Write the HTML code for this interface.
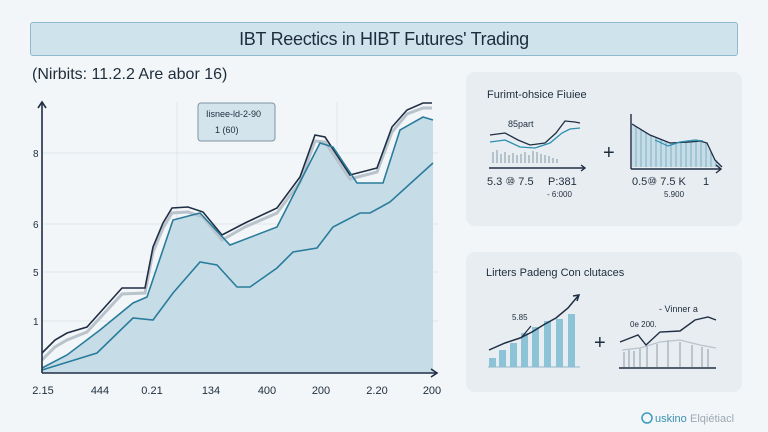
<!DOCTYPE html>
<html><head><meta charset="utf-8"><style>
body{margin:0;width:768px;height:432px;background:#f3f6f8;font-family:"Liberation Sans",sans-serif;overflow:hidden;position:relative}
.title{position:absolute;left:30px;top:22px;width:706px;height:32px;background:#cfe3ed;border:1.5px solid #8fb9cd;border-radius:3px;text-align:center;line-height:32px;font-size:18px;color:#1e2d3d;letter-spacing:-0.3px}
.sub{position:absolute;left:32px;top:66px;font-size:16px;color:#1e2d3d}
.panel{position:absolute;left:466px;width:276px;background:#e8edf1;border-radius:9px}
svg{position:absolute;left:0;top:0}
</style></head><body>
<div class="title">IBT Reectics in HIBT Futures' Trading</div>
<div class="sub">(Nirbits: 11.2.2 Are abor 16)</div>
<div class="panel" style="top:72px;height:154px"></div>
<div class="panel" style="top:252px;height:140px"></div>
<svg width="768" height="432" font-family="Liberation Sans, sans-serif">
<g stroke="#dde5ea" stroke-width="1">
<line x1="42" y1="153" x2="438" y2="153"/><line x1="42" y1="224" x2="438" y2="224"/>
<line x1="42" y1="272" x2="438" y2="272"/><line x1="42" y1="321" x2="438" y2="321"/>
<line x1="177" y1="102" x2="177" y2="373"/><line x1="337" y1="102" x2="337" y2="373"/>
</g>
<polygon fill="#c6dde7" points="42,368 67,355 100,330 133,303 147,297 173,220 200,213 230,245 277,227 320,143 333,147 357,183 383,183 400,130 423,117 433,120 433,373 42,373"/>
<polyline fill="none" stroke="#b8c3cc" stroke-width="3" points="42,360 55,347 67,340 87,332 122,294 145,293 153,252 163,228 172,213 188,212 203,217 222,240 245,227 277,213 300,182 315,141 325,142 350,179 377,172 392,132 407,114 423,108 432,108"/>
<polyline fill="none" stroke="#1f2e44" stroke-width="1.6" points="42,353 55,340 67,333 87,327 122,288 145,288 153,247 163,223 172,208 188,207 203,212 222,235 245,223 277,208 300,177 315,135 325,137 350,175 377,168 392,127 407,110 423,103 432,103"/>
<polyline fill="none" stroke="#2a7c9c" stroke-width="1.6" points="42,368 67,355 100,330 133,303 147,297 173,220 200,213 230,245 277,227 320,143 333,147 357,183 383,183 400,130 423,117 433,120"/>
<polyline fill="none" stroke="#2a7c9c" stroke-width="1.6" points="42,370 97,353 133,318 153,320 173,293 200,262 217,265 237,287 250,287 277,268 293,252 317,248 333,227 360,213 370,213 390,202 433,163"/>
<g stroke="#1f2e44" stroke-width="1.6" fill="none">
<line x1="42" y1="373" x2="42" y2="103"/><line x1="42" y1="373" x2="437" y2="373"/>
<polyline points="38,108 42,102 46,108"/><polyline points="431,369 437,373 431,377"/>
</g>
<g font-size="10" fill="#1e2d3d">
<text x="33" y="157">8</text><text x="33" y="228">6</text><text x="33" y="276">5</text><text x="33" y="325">1</text>
</g>
<g font-size="11" fill="#1e2d3d" text-anchor="middle">
<text x="43" y="394">2.15</text><text x="100" y="394">444</text><text x="152" y="394">0.21</text><text x="211" y="394">134</text><text x="267" y="394">400</text><text x="321" y="394">200</text><text x="377" y="394">2.20</text><text x="432" y="394">200</text>
</g>
<rect x="198" y="103" width="77" height="38" rx="3" fill="#d3e4ec" stroke="#7d93a5"/>
<text x="206" y="117" font-size="9" fill="#1e2d3d">Iisnee-ld-2-90</text>
<text x="215" y="133" font-size="9" fill="#1e2d3d">1 (60)</text>
<!-- panel1 -->
<text x="487" y="98" font-size="11" fill="#1e2d3d">Furimt-ohsice Fiuiee</text>
<text x="508" y="127" font-size="9" fill="#1e2d3d">85part</text>
<g stroke="#7f98a8" stroke-width="1">
<line x1="493" y1="152" x2="493" y2="163"/><line x1="497" y1="150" x2="497" y2="163"/><line x1="501" y1="154" x2="501" y2="163"/><line x1="505" y1="152" x2="505" y2="163"/><line x1="509" y1="155" x2="509" y2="163"/><line x1="513" y1="153" x2="513" y2="163"/><line x1="517" y1="155" x2="517" y2="163"/><line x1="521" y1="154" x2="521" y2="163"/><line x1="525" y1="152" x2="525" y2="163"/><line x1="529" y1="155" x2="529" y2="163"/><line x1="533" y1="151" x2="533" y2="163"/><line x1="537" y1="152" x2="537" y2="163"/><line x1="541" y1="154" x2="541" y2="163"/><line x1="545" y1="155" x2="545" y2="163"/><line x1="549" y1="156" x2="549" y2="163"/><line x1="553" y1="158" x2="553" y2="163"/><line x1="557" y1="159" x2="557" y2="163"/>
</g>
<polyline fill="none" stroke="#1f2e44" stroke-width="1.3" points="490,135 505,133 518,140 530,145 545,143 556,133 565,121 575,122 580,123"/>
<polyline fill="none" stroke="#2a8fb0" stroke-width="1.3" points="490,142 505,140 520,147 535,148 550,143 562,133 570,129 580,128"/>
<line x1="489" y1="168" x2="585" y2="168" stroke="#1f2e44" stroke-width="1.4"/><polyline points="581,165 585,168 581,171" fill="none" stroke="#1f2e44" stroke-width="1.4"/>
<text x="487" y="185" font-size="11" fill="#1e2d3d">5.3 ⑩ 7.5</text><text x="548" y="185" font-size="11" fill="#1e2d3d">P:381</text>
<text x="547" y="197" font-size="8" fill="#1e2d3d">- 6:000</text>
<text x="603" y="159" font-size="20" fill="#1e2d3d">+</text>
<polygon fill="#c6dde7" points="632,124 650,135 670,143 690,142 700,141 707,143 715,160 722,167 722,167 632,167"/>
<g stroke="#7fb0c5" stroke-width="1">
<line x1="636" y1="127" x2="636" y2="167"/><line x1="641" y1="130" x2="641" y2="167"/><line x1="646" y1="133" x2="646" y2="167"/><line x1="651" y1="136" x2="651" y2="167"/><line x1="656" y1="138" x2="656" y2="167"/><line x1="661" y1="140" x2="661" y2="167"/><line x1="666" y1="142" x2="666" y2="167"/><line x1="671" y1="143" x2="671" y2="167"/><line x1="676" y1="143" x2="676" y2="167"/><line x1="681" y1="142" x2="681" y2="167"/><line x1="686" y1="142" x2="686" y2="167"/><line x1="691" y1="142" x2="691" y2="167"/><line x1="696" y1="141" x2="696" y2="167"/><line x1="701" y1="141" x2="701" y2="167"/><line x1="706" y1="143" x2="706" y2="167"/><line x1="711" y1="152" x2="711" y2="167"/><line x1="716" y1="160" x2="716" y2="167"/>
</g>
<polyline fill="none" stroke="#1f2e44" stroke-width="1.3" points="632,124 650,135 670,143 690,142 700,141 707,143 715,160 722,167"/>
<polyline fill="none" stroke="#2a8fb0" stroke-width="1.2" points="655,140 668,146 680,142 695,140 703,141"/>
<line x1="631" y1="114" x2="631" y2="169" stroke="#1f2e44" stroke-width="1.4"/><line x1="631" y1="169" x2="720" y2="169" stroke="#1f2e44" stroke-width="1.4"/>
<polyline points="716,165 721,169 716,173" fill="none" stroke="#1f2e44" stroke-width="1.4"/>
<text x="632" y="185" font-size="11" fill="#1e2d3d">0.5⑩ 7.5 K</text><text x="703" y="185" font-size="11" fill="#1e2d3d">1</text>
<text x="664" y="197" font-size="8" fill="#1e2d3d">5.900</text>
<!-- panel2 -->
<text x="486" y="276" font-size="11" fill="#1e2d3d">Lirters Padeng Con clutaces</text>
<g fill="#8cc3d6">
<rect x="489" y="358" width="7" height="9"/><rect x="499" y="350" width="7" height="17"/><rect x="510" y="343" width="7" height="24"/><rect x="521" y="333" width="7" height="34"/><rect x="532" y="327" width="7" height="40"/><rect x="544" y="321" width="7" height="46"/><rect x="556" y="319" width="7" height="48"/><rect x="568" y="314" width="7" height="53"/>
</g>
<line x1="488" y1="367" x2="580" y2="367" stroke="#8fb9cd" stroke-width="1"/>
<polyline fill="none" stroke="#1f2e44" stroke-width="1.5" points="489,350 505,343 520,338 532,332 545,324 556,318 568,308 578,296"/>
<polyline points="573,296 579,295 577,301" fill="none" stroke="#1f2e44" stroke-width="1.5"/>
<line x1="521" y1="338" x2="531" y2="326" stroke="#1f2e44" stroke-width="1.2"/>
<text x="512" y="320" font-size="8" fill="#1e2d3d">5.85</text>
<text x="594" y="349" font-size="20" fill="#1e2d3d">+</text>
<text x="659" y="312" font-size="9" fill="#1e2d3d">- Vinner   a</text>
<text x="630" y="327" font-size="8" fill="#1e2d3d">0e 200.</text>
<g stroke="#8a9ba8" stroke-width="1">
<line x1="624" y1="352" x2="624" y2="367"/><line x1="629" y1="350" x2="629" y2="367"/><line x1="634" y1="351" x2="634" y2="367"/><line x1="640" y1="348" x2="640" y2="367"/><line x1="647" y1="346" x2="647" y2="367"/><line x1="657" y1="344" x2="657" y2="367"/><line x1="668" y1="340" x2="668" y2="367"/><line x1="680" y1="342" x2="680" y2="367"/><line x1="692" y1="345" x2="692" y2="367"/><line x1="702" y1="347" x2="702" y2="367"/><line x1="708" y1="349" x2="708" y2="367"/>
</g>
<polyline fill="none" stroke="#b8c3cc" stroke-width="1.3" points="622,350 640,348 660,342 680,340 700,345 716,348"/>
<polyline fill="none" stroke="#1f2e44" stroke-width="1.4" points="620,342 638,335 646,345 660,332 680,331 695,320 708,317 716,320"/>
<line x1="619" y1="368" x2="716" y2="368" stroke="#1f2e44" stroke-width="1.4"/>
<circle cx="647" cy="418" r="5" fill="none" stroke="#3a9cc0" stroke-width="1.5"/>
<text x="655" y="422" font-size="11" fill="#3a8fb0">uskino</text><text x="690" y="422" font-size="11" fill="#9aa8b2">Elqiétiacl</text>
</svg>
</body></html>
